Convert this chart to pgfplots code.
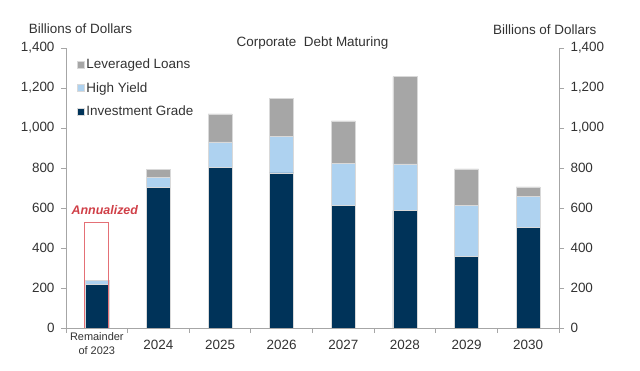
\documentclass[border=0pt]{standalone}
\usepackage{pgfplots}
\pgfplotsset{compat=1.18}
\usepackage{fontspec}
\setmainfont{Liberation Sans}
\definecolor{ig}{RGB}{0,51,89}
\definecolor{hy}{RGB}{174,210,240}
\definecolor{ll}{RGB}{166,166,166}
\definecolor{axgray}{RGB}{166,166,166}
\definecolor{txt}{RGB}{50,50,50}
\definecolor{annred}{RGB}{208,64,72}
\definecolor{boxred}{RGB}{228,112,118}
\newcommand{\remlab}{\fontsize{11}{13}\selectfont\begin{tabular}{@{}c@{}}Remainder\\[1pt]of 2023\end{tabular}}
\pgfplotsset{
  common/.style={
    scale only axis, width=493bp, height=280bp,
    at={(66bp,43bp)}, anchor=south west,
    xmin=-0.5, xmax=7.5, ymin=0, ymax=1400,
    ytick={0,200,...,1400},
    tick align=outside, major tick length=5bp,
    axis line style={draw=axgray, line width=0.8bp},
    every tick/.style={draw=axgray, line width=0.8bp},
    tick label style={font=\fontsize{13.5}{16}\selectfont, text=txt},
    /pgf/number format/1000 sep={,},
    /pgf/number format/assume math mode=true,
    bar width=24bp,
  }
}
\begin{document}
\begin{tikzpicture}
\useasboundingbox (0,0) rectangle (640bp,371bp);
\begin{axis}[common,
  axis x line*=bottom, axis y line*=left,
  ybar stacked,
  xtick={-0.5,0.5,...,7.5},
  x tick label as interval,
  xticklabels={\remlab,2024,2025,2026,2027,2028,2029,2030},
  xticklabel style={anchor=center, yshift=-12bp},
  yticklabel style={xshift=-3bp},
  legend style={draw=none, fill=none, inner sep=0pt, at={(0.022,0.97)}, anchor=north west,
    font=\fontsize{13.5}{16}\selectfont, text=txt, row sep=8.5bp,
    /tikz/every even column/.append style={column sep=1bp}},
  legend cell align=left,
  reverse legend,
  legend image code/.code={\fill[#1] (0bp,-3.5bp) rectangle (7bp,3.5bp);},
]
\addplot[fill=ig, draw=white!85!black, line width=0.4bp] coordinates {(0,218) (1,702) (2,802) (3,775) (4,613) (5,587) (6,357) (7,502)};
\addlegendentry{Investment Grade}
\addplot[fill=hy, draw=white!85!black, line width=0.4bp] coordinates {(0,19) (1,51) (2,128) (3,182) (4,209) (5,233) (6,256) (7,155)};
\addlegendentry{High Yield}
\addplot[fill=ll, draw=white!85!black, line width=0.4bp] coordinates {(0,0) (1,40) (2,140) (3,190) (4,213) (5,437) (6,182) (7,48)};
\addlegendentry{Leveraged Loans}
\end{axis}
\begin{axis}[common,
  axis y line*=right, axis x line=none,
  ybar,
  yticklabel style={xshift=3bp},
]
\addplot[fill=none, draw=boxred, line width=0.9bp] coordinates {(0,527)};
\node[anchor=base, yshift=8.5bp, xshift=8bp, text=annred, font=\fontsize{12.5}{15}\selectfont\bfseries\itshape] at (axis cs:0,527) {Annualized};
\end{axis}
\node[text=txt, font=\fontsize{13.5}{16}\selectfont] at (80.5bp,342bp) {Billions of Dollars};
\node[text=txt, font=\fontsize{13.5}{16}\selectfont] at (544.7bp,341bp) {Billions of Dollars};
\node[text=txt, font=\fontsize{13.5}{16}\selectfont] at (312.5bp,327.7bp) {Corporate\ \ Debt Maturing};
\end{tikzpicture}
\end{document}
